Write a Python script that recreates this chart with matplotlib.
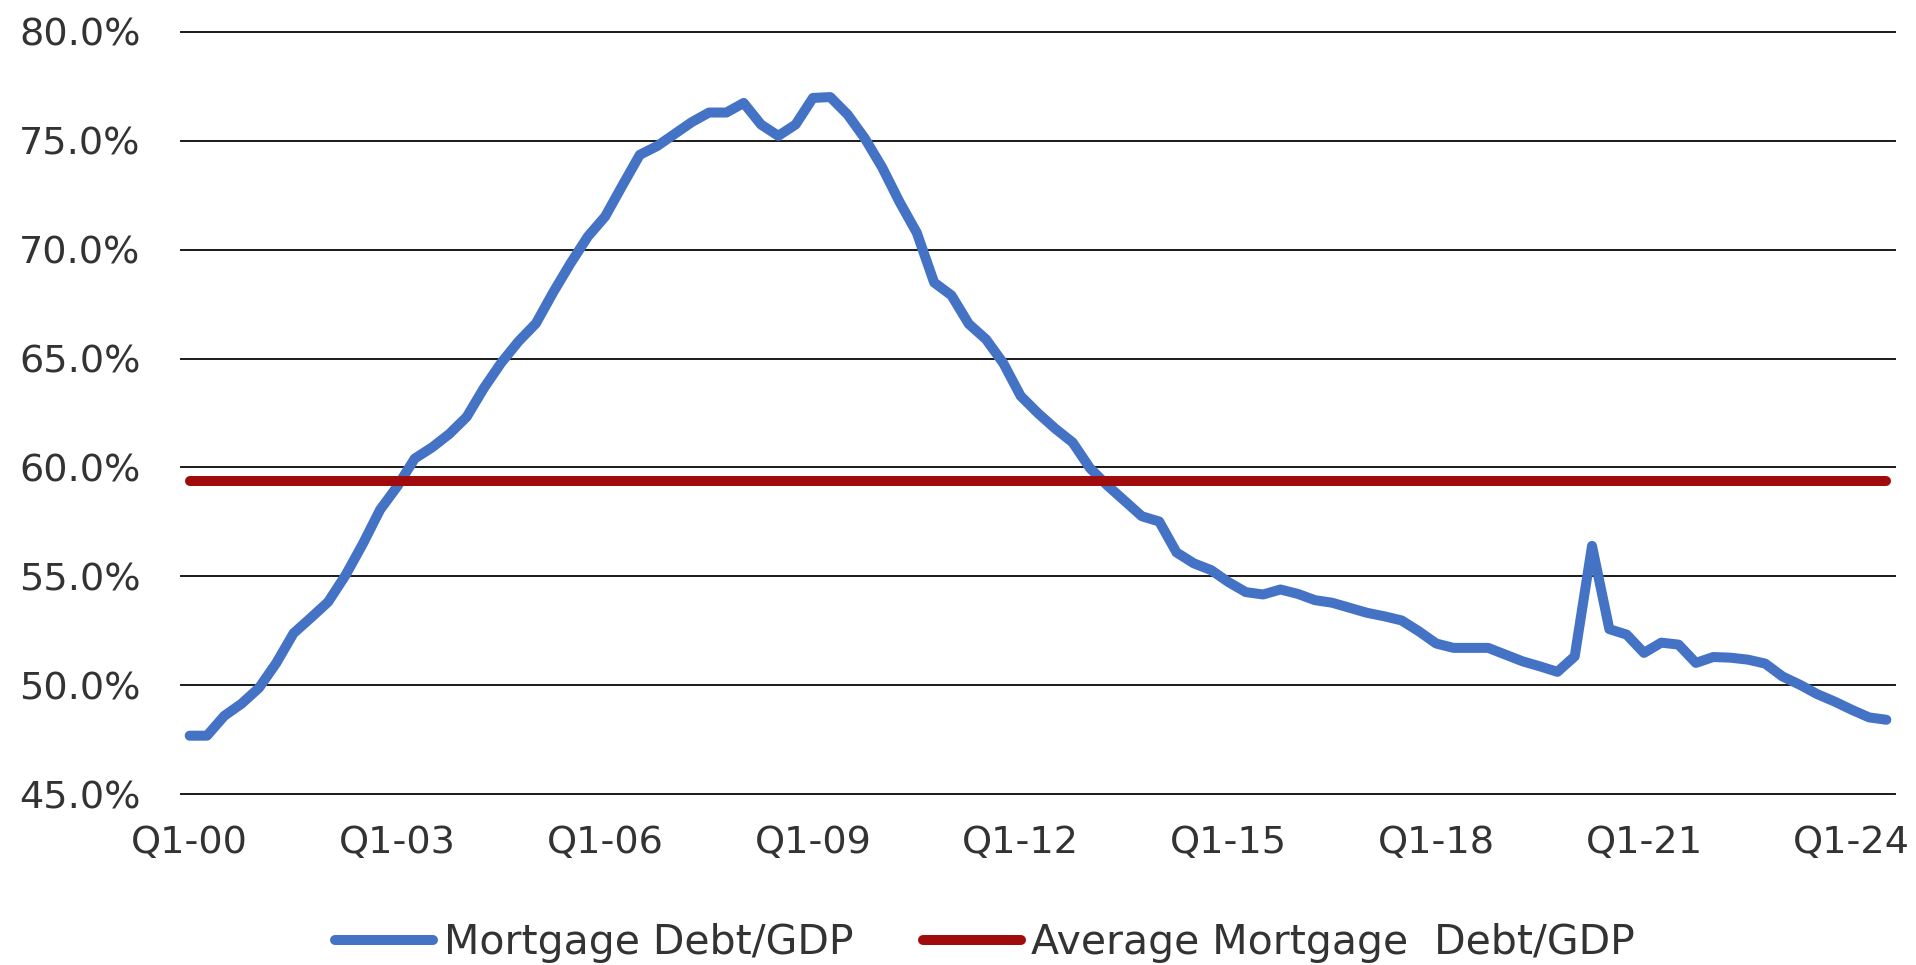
import matplotlib
matplotlib.use("Agg")
import matplotlib.pyplot as plt
from matplotlib.ticker import FuncFormatter, FixedLocator

# Quarterly categories Q1-2000 .. Q3-2024
quarters = [f"Q{q}-{y:02d}" for y in range(0, 25) for q in range(1, 5)][:99]

# Mortgage debt as a share of GDP (%), one value per quarter
mortgage_debt_gdp = [
    47.69, 47.69, 48.60, 49.16,   # 2000
    49.88, 51.02, 52.39, 53.10,   # 2001
    53.83, 55.05, 56.49, 58.06,   # 2002
    59.14, 60.41, 60.92, 61.54,   # 2003
    62.32, 63.65, 64.81, 65.79,   # 2004
    66.61, 68.04, 69.37, 70.60,   # 2005
    71.52, 72.95, 74.35, 74.75,   # 2006
    75.30, 75.85, 76.29, 76.29,   # 2007
    76.73, 75.74, 75.22, 75.74,   # 2008
    76.96, 77.00, 76.20, 75.10,   # 2009
    73.77, 72.19, 70.77, 68.49,   # 2010
    67.90, 66.59, 65.88, 64.78,   # 2011
    63.28, 62.49, 61.78, 61.15,   # 2012
    59.97, 59.18, 58.47, 57.76,   # 2013
    57.52, 56.10, 55.60, 55.29,   # 2014
    54.74, 54.28, 54.17, 54.40,   # 2015
    54.20, 53.91, 53.79, 53.56,   # 2016
    53.33, 53.17, 52.98, 52.48,   # 2017
    51.92, 51.72, 51.72, 51.72,   # 2018
    51.41, 51.10, 50.87, 50.62,   # 2019
    51.33, 56.40, 52.58, 52.33,   # 2020
    51.49, 51.96, 51.87, 51.03,   # 2021
    51.30, 51.27, 51.18, 51.00,   # 2022
    50.41, 50.03, 49.60, 49.26,   # 2023
    48.88, 48.53, 48.42,          # 2024
]

# Long-run average of the ratio (%)
average_debt_gdp = 59.4

tick_labels = ["Q1-00", "Q1-03", "Q1-06", "Q1-09", "Q1-12",
               "Q1-15", "Q1-18", "Q1-21", "Q1-24"]
y_ticks = [45, 50, 55, 60, 65, 70, 75, 80]

series_labels = ["Mortgage Debt/GDP", "Average Mortgage  Debt/GDP"]

BLUE = "#4472C4"
RED = "#A00C0C"
TEXT = "#333333"

plt.rcParams["font.family"] = ["DejaVu Sans"]

fig = plt.figure(figsize=(19.16, 9.65), dpi=100)
ax = fig.add_axes([181 / 1916, 1 - 794.3 / 965, (1895 - 181) / 1916, (794.3 - 31.7) / 965])

x = list(range(len(quarters)))
ax.plot(x, mortgage_debt_gdp, color=BLUE, lw=7.2,
        solid_capstyle="round", solid_joinstyle="round",
        label=series_labels[0], zorder=3)
ax.plot(x, [average_debt_gdp] * len(quarters), color=RED, lw=7.2,
        solid_capstyle="round", label=series_labels[1], zorder=4)

ax.set_xlim(-0.5, len(quarters) - 0.5)
ax.set_ylim(45, 80)

tick_pos = [quarters.index(t) for t in tick_labels]
ax.xaxis.set_major_locator(FixedLocator(tick_pos))
ax.set_xticklabels(tick_labels)
ax.yaxis.set_major_locator(FixedLocator(y_ticks))
ax.yaxis.set_major_formatter(FuncFormatter(lambda v, _: f"{v:.1f}%"))

ax.grid(axis="y", color="#1a1a1a", lw=1.4, zorder=1)
for line in ax.get_ygridlines():
    line.set_clip_on(False)
ax.grid(axis="x", visible=False)
for s in ax.spines.values():
    s.set_visible(False)

ax.tick_params(axis="both", length=0, labelsize=27.5, labelcolor=TEXT)
ax.tick_params(axis="y", pad=29)
ax.tick_params(axis="x", pad=22)
for lbl in ax.get_xticklabels():
    lbl.set_x(lbl.get_position()[0])

fig.legend(loc="center", bbox_to_anchor=(985 / 1916, 1 - 943 / 965),
           ncol=2, frameon=False, fontsize=29.5, labelcolor=TEXT,
           handlelength=2.4, handletextpad=0.25, columnspacing=1.7)

fig.savefig("out.png", dpi=100, facecolor="white")
